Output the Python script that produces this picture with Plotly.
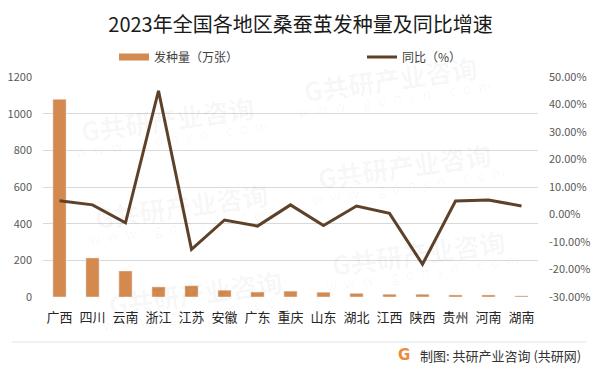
import plotly.graph_objects as go

categories = ["广西", "四川", "云南", "浙江", "江苏", "安徽", "广东", "重庆",
              "山东", "湖北", "江西", "陕西", "贵州", "河南", "湖南"]
volume = [1078, 213, 142, 55, 61, 37, 27, 32, 26, 20, 15, 15, 11, 11, 6]
yoy_pct = [5.0, 3.5, -3.0, 45.0, -12.7, -2.0, -4.2, 3.5, -4.0, 3.1, 0.4, -18.1, 4.9, 5.3, 3.1]

left_ticks = [0, 200, 400, 600, 800, 1000, 1200]
right_ticks = [-30, -20, -10, 0, 10, 20, 30, 40, 50]
right_ticktext = [f"{v:.2f}%" for v in right_ticks]

BAR = "#D48A4E"
LINE = "#5E4129"
FONT = "Noto Sans CJK SC"

# the page body has an 8px margin; lay out in screen pixels and compensate
OFF = 8
SW, SH = 601, 375
W, H = SW - 2 * OFF, SH - 2 * OFF
# plot area in screen pixels
L, R, T, B = 43, 538, 77, 297

def px_x(p):
    return (p - L) / (R - L)

def px_y(p):
    return (B - p) / (B - T)

fig = go.Figure()
fig.add_trace(go.Bar(
    x=categories, y=volume, name="发种量（万张）", marker_color=BAR,
    showlegend=False, legendgroup="v", yaxis="y"))
fig.add_trace(go.Scatter(
    x=[None], y=[None], mode="lines", name="发种量（万张）",
    line=dict(color=BAR, width=7), legendgroup="v", yaxis="y", legend="legend"))
fig.add_trace(go.Scatter(
    x=categories, y=yoy_pct, mode="lines", name="同比（%）",
    line=dict(color=LINE, width=3), yaxis="y2", legend="legend2"))

legend_common = dict(orientation="h", xanchor="left", yanchor="middle",
                     font=dict(family=FONT, size=12, color="#404040"),
                     bgcolor="rgba(0,0,0,0)", itemclick=False)

fig.update_layout(
    width=W, height=H,
    margin=dict(l=L - OFF, r=(W + OFF) - R, t=T - OFF, b=(H + OFF) - B,
                pad=0, autoexpand=False),
    paper_bgcolor="white", plot_bgcolor="white",
    font=dict(family=FONT, color="#595959", size=11),
    title=dict(text="2023年全国各地区桑蚕茧发种量及同比增速",
               x=0.5, xanchor="center", y=1 - (25 - OFF) / H, yanchor="middle",
               font=dict(family=FONT, size=20, color="#1a1a1a")),
    bargap=0.6,
    showlegend=True,
    legend=dict(x=px_x(114), y=px_y(57), **legend_common),
    legend2=dict(x=px_x(362), y=px_y(57), **legend_common),
    xaxis=dict(type="category", showgrid=False, showline=False, zeroline=False,
               ticks="", tickfont=dict(family=FONT, size=13, color="#262626"),
               ticklabelstandoff=11),
    yaxis=dict(range=[0, 1200], tickvals=left_ticks, showgrid=True,
               gridcolor="#D9D9D9", gridwidth=1, zeroline=False, showline=False,
               ticks="", tickfont=dict(size=11, color="#595959"),
               ticklabelstandoff=10),
    yaxis2=dict(range=[-30, 50], tickvals=right_ticks, ticktext=right_ticktext,
                overlaying="y", side="right", showgrid=False, zeroline=False,
                showline=False, ticks="",
                tickfont=dict(size=11, color="#595959"),
                ticklabelstandoff=10),
)

# faint tiled watermark (only the blocks that sit fully inside the chart body)
WM_COLOR = "rgba(0,0,0,0.04)"
WWW = "\u2002".join("www.gonyn.com")
for i in range(0, 2):
    for j in range(-1, 4):
        cx = 167 + 223 * i + 14 * j
        cy = 118 - 40 * i + 87 * j
        if cx < 100 or cx > 500 or cy < 60 or cy > 300:
            continue
        fig.add_annotation(xref="paper", yref="paper", x=px_x(cx), y=px_y(cy),
                           text="<b>G共研产业咨询</b>", showarrow=False,
                           textangle=-8, xanchor="center", yanchor="middle",
                           font=dict(family=FONT, size=26, color=WM_COLOR))
        fig.add_annotation(xref="paper", yref="paper", x=px_x(cx + 4), y=px_y(cy + 20),
                           text=WWW, showarrow=False,
                           textangle=-8, xanchor="center", yanchor="middle",
                           font=dict(family=FONT, size=14, color=WM_COLOR))

# footer separator line
fig.add_shape(type="line", xref="paper", yref="paper",
              x0=px_x(12), x1=px_x(586), y0=px_y(342), y1=px_y(342),
              line=dict(color="#E3E3E3", width=1))
# footer logo + source
fig.add_annotation(xref="paper", yref="paper", x=px_x(404), y=px_y(355),
                   text="<b>G</b>", showarrow=False,
                   font=dict(family="DejaVu Sans", size=15, color="#F08A3C"),
                   xanchor="center", yanchor="middle")
fig.add_annotation(xref="paper", yref="paper", x=px_x(418), y=px_y(355),
                   text="制图: 共研产业咨询 (共研网)", showarrow=False,
                   font=dict(family=FONT, size=13, color="#333333"),
                   xanchor="left", yanchor="middle")

fig.write_html("out.html")
